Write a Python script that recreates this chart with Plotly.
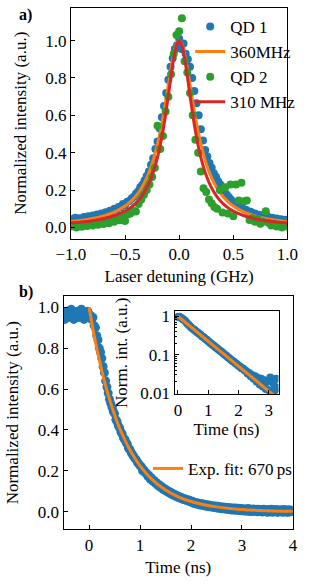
import numpy as np
import plotly.graph_objects as go

# ---------------- Panel a data ----------------
qd1_detuning = np.round(np.linspace(-1.0, 1.0, 101), 3)
qd1_intensity = [
    0.045, 0.036, 0.052, 0.040, 0.050, 0.043, 0.056, 0.048, 0.060, 0.052,
    0.064, 0.058, 0.070, 0.064, 0.075, 0.070, 0.082, 0.078, 0.090, 0.088,
    0.100, 0.098, 0.110, 0.108, 0.125, 0.120, 0.138, 0.142, 0.155, 0.165,
    0.180, 0.192, 0.215, 0.228, 0.252, 0.275, 0.300, 0.335, 0.370, 0.420,
    0.460, 0.530, 0.590, 0.650, 0.720, 0.790, 0.860, 0.905, 0.955, 0.975,
    1.010,
    0.955, 0.985, 0.930, 0.900, 0.860, 0.800, 0.730, 0.665, 0.600, 0.525,
    0.465, 0.415, 0.380, 0.345, 0.320, 0.290, 0.272, 0.248, 0.230, 0.208,
    0.192, 0.175, 0.162, 0.148, 0.135, 0.125, 0.118, 0.110, 0.104, 0.098,
    0.094, 0.086, 0.084, 0.076, 0.075, 0.068, 0.068, 0.062, 0.062, 0.056,
    0.057, 0.051, 0.052, 0.046, 0.048, 0.042, 0.044, 0.039, 0.041, 0.036,
]

qd2_detuning = np.round(np.linspace(-1.0, 1.0, 81), 3)
qd2_intensity = [
    0.005, 0.012, 0.000, 0.010, 0.004, 0.015, 0.008, 0.018, 0.010, 0.022,
    0.015, 0.025, 0.018, 0.030, 0.022, 0.035, 0.030, 0.045, 0.038, 0.055,
    0.035, 0.070, 0.075, 0.090, 0.085, 0.125, 0.150, 0.175, 0.200, 0.230,
    0.270, 0.320, 0.545, 0.420, 0.490, 0.620, 0.700, 0.820, 0.930, 1.030,
    1.050,
    1.120, 0.890, 0.830, 0.720, 0.600, 0.470, 0.400, 0.300, 0.210, 0.190,
    0.150, 0.130, 0.110, 0.100, 0.200, 0.080, 0.215, 0.075, 0.230, 0.060,
    0.230, 0.145, 0.240, 0.140, 0.145, 0.040, 0.050, 0.030, 0.045, 0.020,
    0.030, 0.087, 0.025, 0.010, 0.020, 0.005, 0.015, 0.000, 0.010, 0.005,
]

fit_detuning = [-1.0, -0.9, -0.8, -0.7, -0.6, -0.5, -0.45, -0.4, -0.35, -0.3,
                -0.25, -0.2, -0.175, -0.15, -0.125, -0.1, -0.075, -0.05, -0.025,
                0.0,
                0.025, 0.05, 0.075, 0.1, 0.125, 0.15, 0.175, 0.2, 0.25,
                0.3, 0.35, 0.4, 0.45, 0.5, 0.6, 0.7, 0.8, 0.9, 1.0]
fit_360 = [0.0314, 0.0385, 0.0482, 0.0620, 0.0826, 0.1147, 0.138, 0.168, 0.209, 0.265,
           0.341, 0.4475, 0.514, 0.590, 0.675, 0.764, 0.852, 0.928, 0.981,
           1.0,
           0.981, 0.928, 0.852, 0.764, 0.675, 0.590, 0.514, 0.4475, 0.341,
           0.265, 0.209, 0.168, 0.138, 0.1147, 0.0826, 0.0620, 0.0482, 0.0385, 0.0314]
fit_310 = [0.0235, 0.0288, 0.0362, 0.0467, 0.0626, 0.0877, 0.106, 0.1306, 0.164, 0.211,
           0.278, 0.375, 0.440, 0.516, 0.606, 0.706, 0.810, 0.906, 0.975,
           1.0,
           0.975, 0.906, 0.810, 0.706, 0.606, 0.516, 0.440, 0.375, 0.278,
           0.211, 0.164, 0.1306, 0.106, 0.0877, 0.0626, 0.0467, 0.0362, 0.0288, 0.0235]

# ---------------- Panel b data ----------------
decay_time = np.round(np.linspace(-0.5, 4.0, 181), 3)
decay_intensity = [
    # -0.5 .. 0.0
    0.97, 0.94, 0.96, 0.98, 0.95, 0.97, 0.99, 0.95, 0.94, 0.97,
    0.96, 0.98, 0.95, 0.97, 0.99, 0.96, 0.94, 0.97, 0.96, 0.98,
    0.95,
    # 0.025 .. 1.0
    0.96, 0.94, 0.95, 0.91, 0.90, 0.86, 0.84, 0.80, 0.78, 0.75,
    0.71, 0.68, 0.64, 0.61, 0.58, 0.55, 0.53, 0.51, 0.49, 0.48,
    0.45, 0.44, 0.42, 0.41, 0.39, 0.38, 0.36, 0.355, 0.34, 0.33,
    0.31, 0.305, 0.29, 0.28, 0.27, 0.26, 0.255, 0.24, 0.235, 0.225,
    # 1.025 .. 2.0
    0.22, 0.20, 0.205, 0.19, 0.19, 0.175, 0.178, 0.16, 0.165, 0.15,
    0.153, 0.14, 0.142, 0.128, 0.132, 0.12, 0.123, 0.11, 0.114, 0.103,
    0.106, 0.095, 0.099, 0.088, 0.092, 0.082, 0.086, 0.076, 0.080, 0.070,
    0.074, 0.065, 0.069, 0.060, 0.064, 0.056, 0.060, 0.052, 0.056, 0.048,
    # 2.025 .. 3.0
    0.052, 0.042, 0.047, 0.038, 0.044, 0.035, 0.041, 0.032, 0.039, 0.030,
    0.036, 0.027, 0.034, 0.025, 0.032, 0.023, 0.030, 0.021, 0.028, 0.019,
    0.027, 0.017, 0.025, 0.015, 0.024, 0.014, 0.022, 0.012, 0.021, 0.011,
    0.020, 0.009, 0.019, 0.008, 0.018, 0.007, 0.017, 0.006, 0.016, 0.005,
    # 3.025 .. 4.0
    0.015, 0.004, 0.014, 0.003, 0.016, 0.002, 0.013, 0.001, 0.014, 0.003,
    0.012, 0.000, 0.013, 0.002, 0.011, -0.001, 0.012, 0.001, 0.010, -0.002,
    0.011, 0.000, 0.012, -0.002, 0.010, 0.001, 0.011, -0.003, 0.009, 0.000,
    0.010, -0.002, 0.011, -0.001, 0.009, -0.003, 0.010, 0.000, 0.008, 0.002,
]

inset_time = np.round(np.linspace(0.0, 3.3, 67), 3)
inset_intensity = [
    0.96, 0.97, 0.92, 0.86, 0.80, 0.74, 0.66, 0.60, 0.55, 0.50,
    0.47, 0.44, 0.40, 0.38, 0.35, 0.33, 0.30, 0.285, 0.26, 0.245,
    0.225, 0.21, 0.195, 0.18, 0.168, 0.155, 0.145, 0.135, 0.125, 0.118,
    0.108, 0.100, 0.094, 0.086, 0.081, 0.075, 0.069, 0.066, 0.060, 0.057,
    0.052, 0.050, 0.045, 0.044, 0.040, 0.038, 0.033, 0.034, 0.028, 0.030,
    0.024, 0.028, 0.020, 0.025, 0.017, 0.024, 0.015, 0.022, 0.013, 0.020,
    0.012, 0.026, 0.011, 0.018, 0.012, 0.024, 0.014,
]

fit_time = [0.0, 0.1, 0.2, 0.3, 0.4, 0.5, 0.6, 0.8, 1.0, 1.25, 1.5, 1.75,
            2.0, 2.5, 3.0, 3.5, 4.0]
fit_670 = [1.0, 0.8613, 0.7420, 0.6390, 0.5505, 0.4741, 0.4084, 0.3030, 0.2248,
           0.1548, 0.1066, 0.0734, 0.0505, 0.0240, 0.01136, 0.00539, 0.00256]

# ---------------- Styling ----------------
W, H = 314, 587
FONT = "Liberation Serif, Times New Roman, serif"
BLUE, ORANGE, GREEN, RED = "#1f77b4", "#ff7f0e", "#2ca02c", "#d62728"


def px_x(p):
    return p / W


def px_y(p):
    return 1 - p / H


fig = go.Figure()

# panel a traces (drawn in legend order)
fig.add_trace(go.Scatter(x=qd1_detuning, y=qd1_intensity, mode="markers", name="QD 1",
                         marker=dict(color=BLUE, size=8, line=dict(width=0)),
                         xaxis="x", yaxis="y", legend="legend"))
fig.add_trace(go.Scatter(x=fit_detuning, y=fit_360, mode="lines", name="360MHz",
                         line=dict(color=ORANGE, width=3, shape="spline"),
                         xaxis="x", yaxis="y", legend="legend"))
fig.add_trace(go.Scatter(x=qd2_detuning, y=qd2_intensity, mode="markers", name="QD 2",
                         marker=dict(color=GREEN, size=8, line=dict(width=0)),
                         xaxis="x", yaxis="y", legend="legend"))
fig.add_trace(go.Scatter(x=fit_detuning, y=fit_310, mode="lines", name="310 MHz",
                         line=dict(color=RED, width=3, shape="spline"),
                         xaxis="x", yaxis="y", legend="legend"))

# panel b traces
fig.add_trace(go.Scatter(x=decay_time, y=decay_intensity, mode="markers", showlegend=False,
                         marker=dict(color=BLUE, size=9, line=dict(width=0)),
                         xaxis="x2", yaxis="y2"))
fig.add_trace(go.Scatter(x=fit_time, y=fit_670, mode="lines", name="Exp. fit: 670\u2009ps",
                         line=dict(color=ORANGE, width=3, shape="spline"),
                         xaxis="x2", yaxis="y2", legend="legend2"))

# inset traces
fig.add_trace(go.Scatter(x=inset_time, y=inset_intensity, mode="markers", showlegend=False,
                         marker=dict(color=BLUE, size=8, line=dict(width=0)),
                         xaxis="x3", yaxis="y3"))
fig.add_trace(go.Scatter(x=fit_time, y=fit_670, mode="lines", showlegend=False,
                         line=dict(color=ORANGE, width=3),
                         xaxis="x3", yaxis="y3"))

axis_common = dict(showline=True, linecolor="black", linewidth=1.3, mirror=True,
                   ticks="inside", ticklen=4, tickwidth=1, tickcolor="black",
                   showgrid=False, zeroline=False,
                   tickfont=dict(family=FONT, size=17, color="black"))
title_font = dict(family=FONT, size=17, color="black")

fig.update_layout(
    width=W, height=H,
    margin=dict(l=0, r=0, t=0, b=0),
    paper_bgcolor="white", plot_bgcolor="white",
    font=dict(family=FONT, size=17, color="black"),
    xaxis=dict(axis_common, domain=[px_x(61), px_x(297)], range=[-1.0, 1.0],
               dtick=0.5, tick0=0, tickformat=".1f", anchor="y",
               title=dict(text="Laser detuning (GHz)", font=title_font, standoff=6)),
    yaxis=dict(axis_common, domain=[px_y(240), px_y(4)], range=[-0.06, 1.175],
               dtick=0.2, tick0=0, tickformat=".1f", anchor="x",
               title=dict(text="Normalized intensity (a.u.)", font=title_font, standoff=14)),
    xaxis2=dict(axis_common, domain=[px_x(53), px_x(303)], range=[-0.5, 4.0],
                dtick=1, tick0=0, tickformat="d", anchor="y2",
                title=dict(text="Time (ns)", font=title_font, standoff=7)),
    yaxis2=dict(axis_common, domain=[px_y(537), px_y(299)], range=[-0.0846, 1.0526],
                dtick=0.2, tick0=0, tickformat=".1f", anchor="x2",
                title=dict(text="Normalized intensity (a.u.)", font=title_font, standoff=14)),
    xaxis3=dict(axis_common, domain=[px_x(174), px_x(287.3)], range=[-0.11, 3.32],
                dtick=1, tick0=0, tickformat="d", anchor="y3",
                title=dict(text="Time (ns)", font=title_font, standoff=4)),
    yaxis3=dict(axis_common, type="log", domain=[px_y(399), px_y(314.3)],
                range=[-2.02, 0.127], anchor="x3",
                tickvals=[0.01, 0.1, 1], ticktext=["0.01", "0.1", "1"],
                minor=dict(ticks="inside", ticklen=2.5, tickwidth=1, tickcolor="black",
                           tickvals=[0.02, 0.03, 0.04, 0.05, 0.06, 0.07, 0.08, 0.09,
                                     0.2, 0.3, 0.4, 0.5, 0.6, 0.7, 0.8, 0.9]),
                title=dict(text="Norm. int. (a.u.)", font=title_font, standoff=8)),
    legend=dict(x=px_x(191), y=px_y(5), xanchor="left", yanchor="top",
                bgcolor="rgba(0,0,0,0)", borderwidth=0,
                font=dict(family=FONT, size=17, color="black"),
                traceorder="normal", itemwidth=30, tracegroupgap=0),
    legend2=dict(x=px_x(145), y=px_y(457), xanchor="left", yanchor="top",
                 bgcolor="rgba(0,0,0,0)", borderwidth=0,
                 font=dict(family=FONT, size=17, color="black"), itemwidth=30),
    annotations=[
        dict(text="<b>a)</b>", x=px_x(2), y=px_y(0), xref="paper", yref="paper",
             xanchor="left", yanchor="top", showarrow=False,
             font=dict(family=FONT, size=16, color="black")),
        dict(text="<b>b)</b>", x=px_x(2), y=px_y(283), xref="paper", yref="paper",
             xanchor="left", yanchor="top", showarrow=False,
             font=dict(family=FONT, size=16, color="black")),
    ],
)

fig.write_html("out.html",
               config={"displayModeBar": False},
               post_script="document.body.style.margin='0px';"
                           "document.body.style.overflow='hidden';")
